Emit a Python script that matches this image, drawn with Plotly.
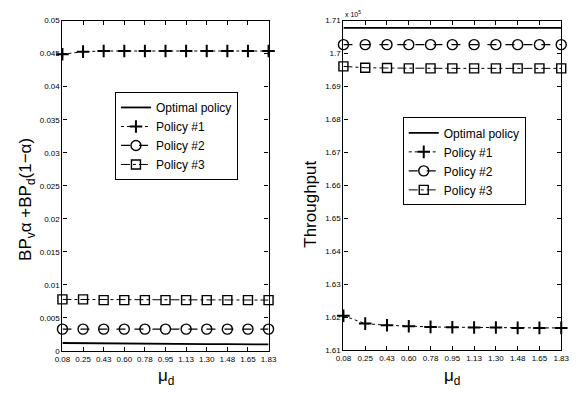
import plotly.graph_objects as go

mu_d = [0.08, 0.255, 0.43, 0.605, 0.78, 0.955, 1.13, 1.305, 1.48, 1.655, 1.83]
mu_labels = ["0.08", "0.25", "0.43", "0.60", "0.78", "0.95", "1.13", "1.30", "1.48", "1.65", "1.83"]

# Left panel: BP_v*alpha + BP_d*(1-alpha)
opt_bp = [0.0012, 0.00116, 0.00112, 0.0011, 0.00108, 0.00106, 0.00104, 0.00103, 0.00102, 0.00101, 0.001]
p1_bp = [0.0449, 0.0453, 0.0454, 0.0454, 0.0454, 0.0454, 0.0454, 0.0454, 0.0454, 0.0454, 0.0454]
p2_bp = [0.0033, 0.0033, 0.0033, 0.0033, 0.0033, 0.0033, 0.0033, 0.0033, 0.0033, 0.0033, 0.0033]
p3_bp = [0.0078, 0.0078, 0.0077, 0.0077, 0.0077, 0.0077, 0.0077, 0.0077, 0.0077, 0.0077, 0.0077]

# Right panel: throughput (x 10^5)
opt_th = [1.7078, 1.7078, 1.7078, 1.7078, 1.7078, 1.7078, 1.7078, 1.7078, 1.7078, 1.7078, 1.7078]
p1_th = [1.6204, 1.6180, 1.6175, 1.6172, 1.6170, 1.6169, 1.6168, 1.6168, 1.6167, 1.6167, 1.6167]
p2_th = [1.7027, 1.7027, 1.7027, 1.7027, 1.7027, 1.7027, 1.7027, 1.7027, 1.7027, 1.7027, 1.7027]
p3_th = [1.6961, 1.6957, 1.6956, 1.6955, 1.6955, 1.6955, 1.6955, 1.6955, 1.6955, 1.6955, 1.6955]

bp_ticks = [0, 0.005, 0.01, 0.015, 0.02, 0.025, 0.03, 0.035, 0.04, 0.045, 0.05]
bp_labels = ["0", "0.005", "0.01", "0.015", "0.02", "0.025", "0.03", "0.035", "0.04", "0.045", "0.05"]
th_ticks = [1.61, 1.62, 1.63, 1.64, 1.65, 1.66, 1.67, 1.68, 1.69, 1.70, 1.71]
th_labels = ["1.61", "1.62", "1.63", "1.64", "1.65", "1.66", "1.67", "1.68", "1.69", "1.7", "1.71"]

names = ["Optimal policy", "Policy #1", "Policy #2", "Policy #3"]
styles = [
    dict(dash="solid", width=1.8, symbol="circle", size=2, mlw=1),
    dict(dash="dot", width=1, symbol="cross-thin-open", size=9, mlw=2),
    dict(dash="dash", width=1.2, symbol="circle-open", size=10, mlw=1.4),
    dict(dash="dashdot", width=1, symbol="square-open", size=9, mlw=1.4),
]

W, H = 577, 397
fig = go.Figure()

left_series = [opt_bp, p1_bp, p2_bp, p3_bp]
right_series = [opt_th, p1_th, p2_th, p3_th]

for panel, series, lg, xa, ya in [(0, left_series, "legend", "x", "y"),
                                  (1, right_series, "legend2", "x2", "y2")]:
    for i, (name, st) in enumerate(zip(names, styles)):
        mode = "lines" if i == 0 else "lines+markers"
        fig.add_trace(go.Scatter(
            x=mu_d, y=series[i], name=name, mode=mode, legend=lg,
            line=dict(color="black", dash=st["dash"], width=st["width"]),
            marker=dict(symbol=st["symbol"], size=st["size"], color="black",
                        line=dict(color="black", width=st["mlw"])),
            xaxis=xa, yaxis=ya, cliponaxis=False,
        ))

tickfont = dict(family="Liberation Sans Narrow, Arial Narrow, Liberation Sans, Arial", size=8, color="black")
axis_common = dict(showline=True, mirror="ticks", linecolor="black", linewidth=1.2,
                   ticks="inside", ticklen=4, tickcolor="black", showgrid=False,
                   zeroline=False, tickfont=tickfont)

ytop = 1 - 17 / H
ybot = 1 - 355 / H

legend_font = dict(family="Liberation Sans, Arial", size=12, color="black")
fig.update_layout(
    width=W, height=H,
    margin=dict(l=0, r=0, t=0, b=0),
    paper_bgcolor="white", plot_bgcolor="white",
    font=dict(family="Liberation Sans, Arial", color="black"),
    xaxis=dict(domain=[56 / W, 268 / W], range=[0.08, 1.83], tickvals=mu_d,
               ticktext=mu_labels, anchor="y", **axis_common),
    yaxis=dict(domain=[ybot, ytop], range=[0, 0.05], tickvals=bp_ticks,
               ticktext=bp_labels, anchor="x", **axis_common),
    xaxis2=dict(domain=[345 / W, 569 / W], range=[0.08, 1.83], tickvals=mu_d,
                ticktext=mu_labels, anchor="y2", **axis_common),
    yaxis2=dict(domain=[1 - 354 / H, ytop], range=[1.61, 1.71], tickvals=th_ticks,
                ticktext=th_labels, anchor="x2", **axis_common),
    legend=dict(x=110 / W, y=1 - 90 / H, xanchor="left", yanchor="top",
                bgcolor="white", bordercolor="black", borderwidth=1,
                font=legend_font, itemwidth=30, tracegroupgap=0),
    legend2=dict(x=406 / W, y=1 - 116 / H, xanchor="left", yanchor="top",
                 bgcolor="white", bordercolor="black", borderwidth=1,
                 font=legend_font, itemwidth=30, tracegroupgap=0),
    showlegend=True,
)

ann_font = dict(family="Liberation Sans, Arial", size=17, color="black")
fig.add_annotation(text="BP<sub>v</sub>α +BP<sub>d</sub>(1−α)", x=20 / W, y=1 - 200 / H,
                   xref="paper", yref="paper", textangle=-90, showarrow=False,
                   font=ann_font, xanchor="center", yanchor="middle")
fig.add_annotation(text="Throughput", x=311 / W, y=1 - 205 / H,
                   xref="paper", yref="paper", textangle=-90, showarrow=False,
                   font=ann_font, xanchor="center", yanchor="middle")
fig.add_annotation(text="μ<sub>d</sub>", x=162 / W, y=1 - 382 / H,
                   xref="paper", yref="paper", showarrow=False,
                   font=ann_font, xanchor="center", yanchor="middle")
fig.add_annotation(text="μ<sub>d</sub>", x=457 / W, y=1 - 382 / H,
                   xref="paper", yref="paper", showarrow=False,
                   font=ann_font, xanchor="center", yanchor="middle")
fig.add_annotation(text="x 10<sup>5</sup>", x=345 / W, y=1 - 10 / H,
                   xref="paper", yref="paper", showarrow=False,
                   font=dict(family="Liberation Sans, Arial", size=7, color="black"),
                   xanchor="left", yanchor="middle")

fig.write_html("out.html")
